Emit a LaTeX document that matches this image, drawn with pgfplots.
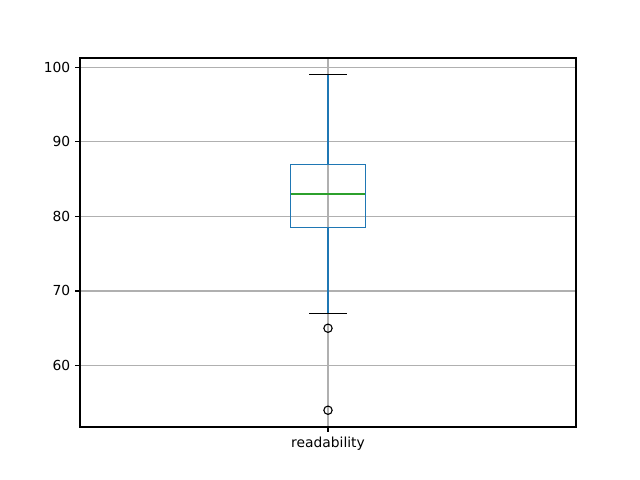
\documentclass[border=0pt]{standalone}
\usepackage{fontspec}
\setmainfont{DejaVu Sans}
\usepackage{pgfplots}
\pgfplotsset{compat=1.18}
\definecolor{mplblue}{HTML}{1F77B4}
\definecolor{mplgreen}{HTML}{2CA02C}
\definecolor{gridgray}{HTML}{B0B0B0}
\begin{document}
\begin{tikzpicture}
\path[use as bounding box] (-0.8in,-0.53in) rectangle (5.6in,4.27in);
\begin{axis}[
  at={(0,0)}, anchor=south west,
  scale only axis,
  width=4.96in, height=3.69in,
  xmin=0.5, xmax=1.5, ymin=51.75, ymax=101.25,
  xtick={1}, xticklabels={readability},
  ytick={60,70,80,90,100},
  grid=major,
  major grid style={color=gridgray, line width=0.8bp},
  axis line style={line width=0.8bp},
  tick align=outside,
  major tick length=3.5bp,
  tick style={black, line width=0.8bp},
  xtick pos=bottom, ytick pos=left,
  tick label style={font=\fontsize{10}{12}\selectfont},
  /pgf/number format/assume math mode=true,
  axis on top=false,
]
% box
\addplot[mplblue, line width=1bp] coordinates {(0.925,78.5) (1.075,78.5) (1.075,87) (0.925,87) (0.925,78.5)};
% whiskers
\addplot[mplblue, line width=1bp] coordinates {(1,78.5) (1,67)};
\addplot[mplblue, line width=1bp] coordinates {(1,87) (1,99)};
% caps
\addplot[black, line width=1bp] coordinates {(0.9625,67) (1.0375,67)};
\addplot[black, line width=1bp] coordinates {(0.9625,99) (1.0375,99)};
% median
\addplot[mplgreen, line width=1bp] coordinates {(0.925,83) (1.075,83)};
% fliers
\addplot[only marks, mark=o, mark size=3bp, black, line width=0.8bp] coordinates {(1,65) (1,54)};
\end{axis}
\end{tikzpicture}
\end{document}
